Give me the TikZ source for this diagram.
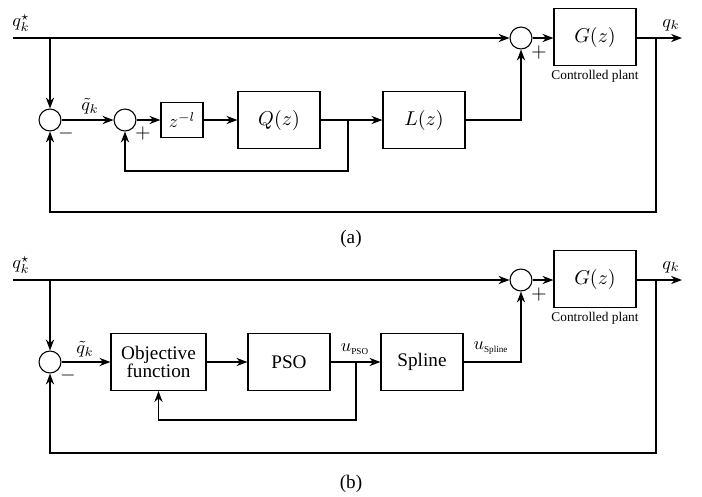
\documentclass[tikz,border=0pt]{standalone}
\usepackage[no-math]{fontspec}
\setmainfont{Liberation Serif}
\usepackage{amsmath}
\usetikzlibrary{arrows.meta}

\newcommand{\subtxt}[1]{\text{\fontsize{5}{6}\selectfont #1}}

\begin{document}
\begin{tikzpicture}[x=0.547pt,y=-0.547pt,line width=0.6pt,
  >={Stealth[length=6pt,width=4.5pt]},
  sumnode/.style={draw,circle,minimum size=12pt,inner sep=0pt},
  block/.style={draw,rectangle,minimum width=44.9pt,minimum height=31.2pt,inner sep=1pt,font=\fontsize{10.5}{12}\selectfont},
  small block/.style={draw,rectangle,minimum width=23pt,minimum height=19pt,inner sep=1pt},
  plantlabel/.style={font=\fontsize{7.3}{9}\selectfont},
  sign/.style={font=\fontsize{11}{12}\selectfont}]
\useasboundingbox (0,0) rectangle (702,496);

% ---------- (a) ----------
\coordinate (ina) at (13,38);
\coordinate (taba) at (50,38);
\node [sumnode] (s1a) at (50,120) {};
\node [sumnode] (s2a) at (125,120) {};
\node [small block] (zl) at (182,120) {$z^{-l}$};
\node [block] (Q) at (279,120) {$Q(z)$};
\coordinate (bra) at (348,120);
\node [block] (L) at (424,120) {$L(z)$};
\node [sumnode] (s3a) at (521,38) {};
\node [block] (Ga) at (595,37) {$G(z)$};
\coordinate (outa) at (682,38);
\coordinate (fba) at (656,38);

\draw (ina) -- (taba);
\draw [->] (taba) -- (s3a);
\draw [->] (taba) -- (s1a);
\draw [->] (s1a) -- (s2a);
\draw [->] (s2a) -- (zl);
\draw [->] (zl) -- (Q);
\draw [->] (Q) -- (L);
\draw [->] (L) -| (s3a);
\draw [->] (s3a) -- (Ga.west |- s3a);
\draw [->] (Ga.east |- outa) -- (outa);
\draw [->] (bra) -- (348,171) -| (s2a);
\draw [->] (fba) -- (656,212) -| (s1a);

\node at (21,23) {$q_k^\star$};
\node at (90,106) {$\tilde{q}_k$};
\node [sign] at (66,133) {$-$};
\node [sign] at (143,133) {$+$};
\node [sign] at (539,52) {$+$};
\node at (671,25) {$q_k$};
\node [plantlabel] at (595,76) {Controlled plant};
\node [font=\fontsize{10.5}{12}\selectfont] at (351,239) {(a)};

% ---------- (b) ----------
\coordinate (inb) at (13,280);
\coordinate (tabb) at (50,280);
\node [sumnode] (s1b) at (50,362) {};
\node [block,minimum width=52pt,align=center] (obj) at (158.5,362) {Objective\\[-2pt]function};
\node [block] (pso) at (289,362) {PSO};
\coordinate (brb) at (356,362);
\node [block] (spl) at (422,362) {Spline};
\node [sumnode] (s3b) at (521,280) {};
\node [block] (Gb) at (595,279) {$G(z)$};
\coordinate (outb) at (682,280);
\coordinate (fbb) at (656,280);

\draw (inb) -- (tabb);
\draw [->] (tabb) -- (s3b);
\draw [->] (tabb) -- (s1b);
\draw [->] (s1b) -- (obj);
\draw [->] (obj) -- (pso);
\draw [->] (pso) -- (spl);
\draw [->] (spl) -| (s3b);
\draw [->] (s3b) -- (Gb.west |- s3b);
\draw [->] (Gb.east |- outb) -- (outb);
\draw [->] (brb) -- (356,420) -| (obj);
\draw [->] (fbb) -- (656,453) -| (s1b);

\node at (21,265) {$q_k^\star$};
\node at (85,349) {$\tilde{q}_k$};
\node [sign] at (68,375) {$-$};
\node [sign] at (539,294) {$+$};
\node at (355,349) {$u_{\subtxt{PSO}}$};
\node at (491,348) {$u_{\subtxt{Spline}}$};
\node at (671,267) {$q_k$};
\node [plantlabel] at (595,318) {Controlled plant};
\node [font=\fontsize{10.5}{12}\selectfont] at (351,484) {(b)};
\end{tikzpicture}
\end{document}
